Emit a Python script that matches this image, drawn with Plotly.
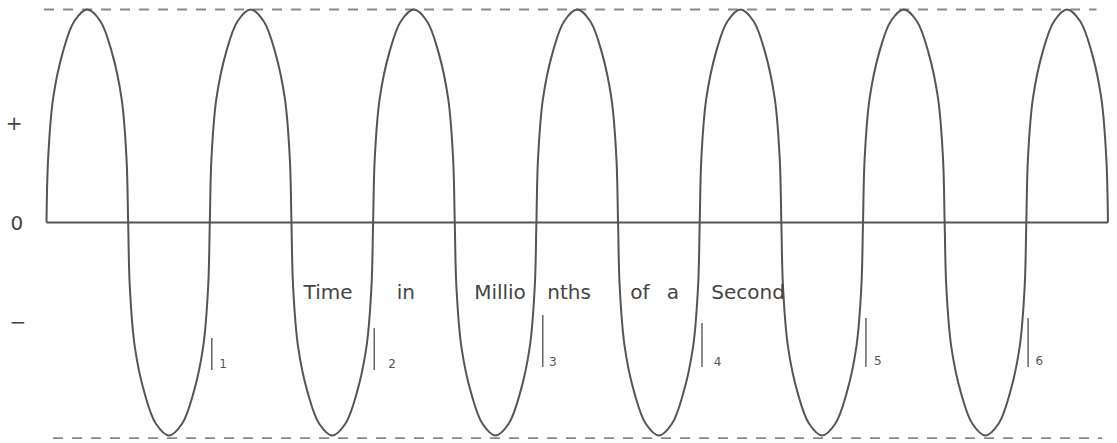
import plotly.graph_objects as go

# ---- data ----
# time axis in millionths of a second; the wave spans 6.5 cycles
n_half_cycles = 13
period = 1.0
# shape of one half-cycle lobe (position across the half-cycle, height)
lobe_u = [0, 0.02, 0.08, 0.2, 0.34, 0.5, 0.66, 0.8, 0.92, 0.98, 1]
lobe_h = [0, 0.30, 0.58, 0.80, 0.945, 1.0, 0.945, 0.80, 0.58, 0.30, 0]

# marks for each millionth of a second
tick_labels = ["1", "2", "3", "4", "5", "6"]
tick_x = [1.012, 2.007, 3.039, 4.014, 5.018, 6.011]
tick_top = [-0.542, -0.495, -0.434, -0.472, -0.448, -0.448]
tick_bottom = [-0.692, -0.692, -0.678, -0.678, -0.678, -0.678]
tick_label_x = [1.081, 2.116, 3.10, 4.11, 5.09, 6.08]
tick_label_y = [-0.669, -0.669, -0.66, -0.66, -0.655, -0.655]

# axis title words, spread between the loops
words = ["Time", "in", "Millio", "nths", "of", "a", "Second"]
word_x = [1.724, 2.201, 2.777, 3.20, 3.634, 3.836, 4.296]
word_y = -0.336

# sign labels
sign_labels = ["+", "0", "\u2212"]
sign_x = [-0.199, -0.181, -0.175]
sign_y = [0.458, -0.012, -0.477]

# dashed amplitude lines
top_line_x = [-0.015, 6.43]
top_line_y = 1.0
bottom_line_x = [0.04, 6.465]
bottom_line_y = -1.012

# ---- build the wave ----
wave_x, wave_y = [], []
for k in range(n_half_cycles):
    sign = 1 if k % 2 == 0 else -1
    for j, (u, h) in enumerate(zip(lobe_u, lobe_h)):
        if k > 0 and j == 0:
            continue
        wave_x.append((k + u) * period / 2)
        wave_y.append(sign * h)

ink = "#555555"
fig = go.Figure()

fig.add_trace(go.Scatter(x=top_line_x, y=[top_line_y] * 2, mode="lines",
                         line=dict(color="#888888", width=1.8, dash="10px,9px"),
                         hoverinfo="skip"))
fig.add_trace(go.Scatter(x=bottom_line_x, y=[bottom_line_y] * 2, mode="lines",
                         line=dict(color="#888888", width=1.8, dash="10px,9px"),
                         hoverinfo="skip"))
fig.add_trace(go.Scatter(x=[0, n_half_cycles * period / 2], y=[0, 0], mode="lines",
                         line=dict(color=ink, width=2), hoverinfo="skip"))
fig.add_trace(go.Scatter(x=wave_x, y=wave_y, mode="lines",
                         line=dict(color=ink, width=2, shape="spline", smoothing=1.0)))

for tx, t0, t1 in zip(tick_x, tick_top, tick_bottom):
    fig.add_trace(go.Scatter(x=[tx, tx], y=[t0, t1], mode="lines",
                             line=dict(color="#666666", width=1.5), hoverinfo="skip"))

fig.add_trace(go.Scatter(x=tick_label_x, y=tick_label_y, mode="text", text=tick_labels,
                         textposition="middle center",
                         textfont=dict(family="DejaVu Sans", size=12, color="#555555")))
fig.add_trace(go.Scatter(x=word_x, y=[word_y] * len(words), mode="text", text=words,
                         textposition="middle center",
                         textfont=dict(family="DejaVu Sans", size=20, color="#444444")))
fig.add_trace(go.Scatter(x=sign_x, y=sign_y, mode="text", text=sign_labels,
                         textposition="middle center",
                         textfont=dict(family="DejaVu Sans", size=20, color="#444444")))

fig.update_layout(
    width=1117, height=443,
    margin=dict(l=0, r=0, t=0, b=0),
    paper_bgcolor="white", plot_bgcolor="white",
    showlegend=False,
    xaxis=dict(range=[-0.2848, 6.5554], visible=False),
    yaxis=dict(range=[-1.0352, 1.0446], visible=False),
)

fig.write_html("out.html", config={"displayModeBar": False},
               post_script="document.body.style.margin='0';")
